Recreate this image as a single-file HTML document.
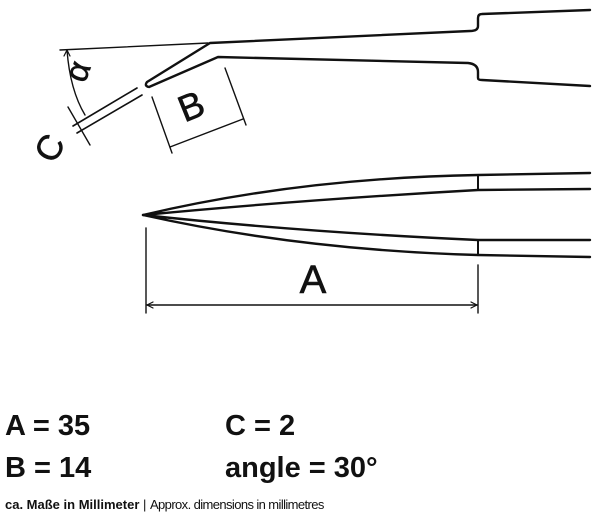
<!DOCTYPE html>
<html><head><meta charset="utf-8"><style>
html,body{margin:0;padding:0;background:#fff;width:600px;height:517px;overflow:hidden}
svg{position:absolute;left:0;top:0}
.t{position:absolute;font-family:"Liberation Sans",sans-serif;font-weight:bold;font-size:29px;color:#111;line-height:1;white-space:nowrap}
.f{position:absolute;left:5px;top:497px;font-family:"Liberation Sans",sans-serif;font-size:13px;color:#111;white-space:nowrap}
</style></head><body>
<svg width="600" height="517" viewBox="0 0 600 517">
<g fill="none" stroke="#111" stroke-linecap="round" stroke-linejoin="round">
<path d="M590 10 L482 14 Q478 14 478 18 L478 26 Q478 31 470 31 L210 43 L147 82 Q144 86 149 87 L218 57 L468 63 Q478 64 478 72 L478 78 Q478 80 482 80 L590 86" stroke-width="2.4"/>
<line x1="60" y1="50" x2="208" y2="43" stroke-width="1.4"/>
<path d="M67 50 Q70 90 85 115" stroke-width="1.4"/>
<path d="M64 56 L67 50 L70 56" stroke-width="1.2"/>
<line x1="137" y1="88" x2="73" y2="126" stroke-width="1.6"/>
<line x1="142" y1="95" x2="77" y2="133" stroke-width="1.6"/>
<line x1="68" y1="107" x2="90" y2="145" stroke-width="1.4"/>
<line x1="152" y1="97" x2="172" y2="153" stroke-width="1.4"/>
<line x1="225" y1="68" x2="246" y2="125" stroke-width="1.4"/>
<line x1="170" y1="147" x2="243" y2="119" stroke-width="1.4"/>
<path d="M590 173 L478 175 Q300 178 143 215 Q300 200 478 190 L590 189" stroke-width="2.4"/>
<path d="M590 240 L478 240 Q300 232 143 215 Q300 250 478 255 L590 257" stroke-width="2.4"/>
<line x1="478" y1="175" x2="478" y2="190" stroke-width="2"/>
<line x1="478" y1="240" x2="478" y2="255" stroke-width="2"/>
<line x1="146" y1="228" x2="146" y2="313" stroke-width="1.4"/>
<line x1="478" y1="265" x2="478" y2="313" stroke-width="1.4"/>
<line x1="147" y1="305" x2="477" y2="305" stroke-width="1.4"/>
<path d="M153 302 L147 305 L153 308 M471 302 L477 305 L471 308" stroke-width="1.2"/>
</g>
<g font-family="Liberation Sans, sans-serif" fill="#111" stroke="#111" stroke-width="0.6">
<text x="313" y="293" font-size="40" text-anchor="middle">A</text>
<text x="0" y="0" font-size="37" text-anchor="middle" transform="translate(196,118) rotate(-22)">B</text>
<text x="0" y="0" font-size="33" text-anchor="middle" transform="translate(88,75) rotate(-70)">α</text>
<text x="0" y="0" font-size="35" text-anchor="middle" transform="translate(60,154) rotate(-60)">C</text>
</g>
</svg>
<div class="t" style="left:5px;top:412px">A = 35</div>
<div class="t" style="left:225px;top:412px">C = 2</div>
<div class="t" style="left:5px;top:454px">B = 14</div>
<div class="t" style="left:225px;top:454px">angle = 30°</div>
<div class="f"><b>ca. Maße in Millimeter</b> | <span style="letter-spacing:-0.6px">Approx. dimensions in millimetres</span></div>
</body></html>
